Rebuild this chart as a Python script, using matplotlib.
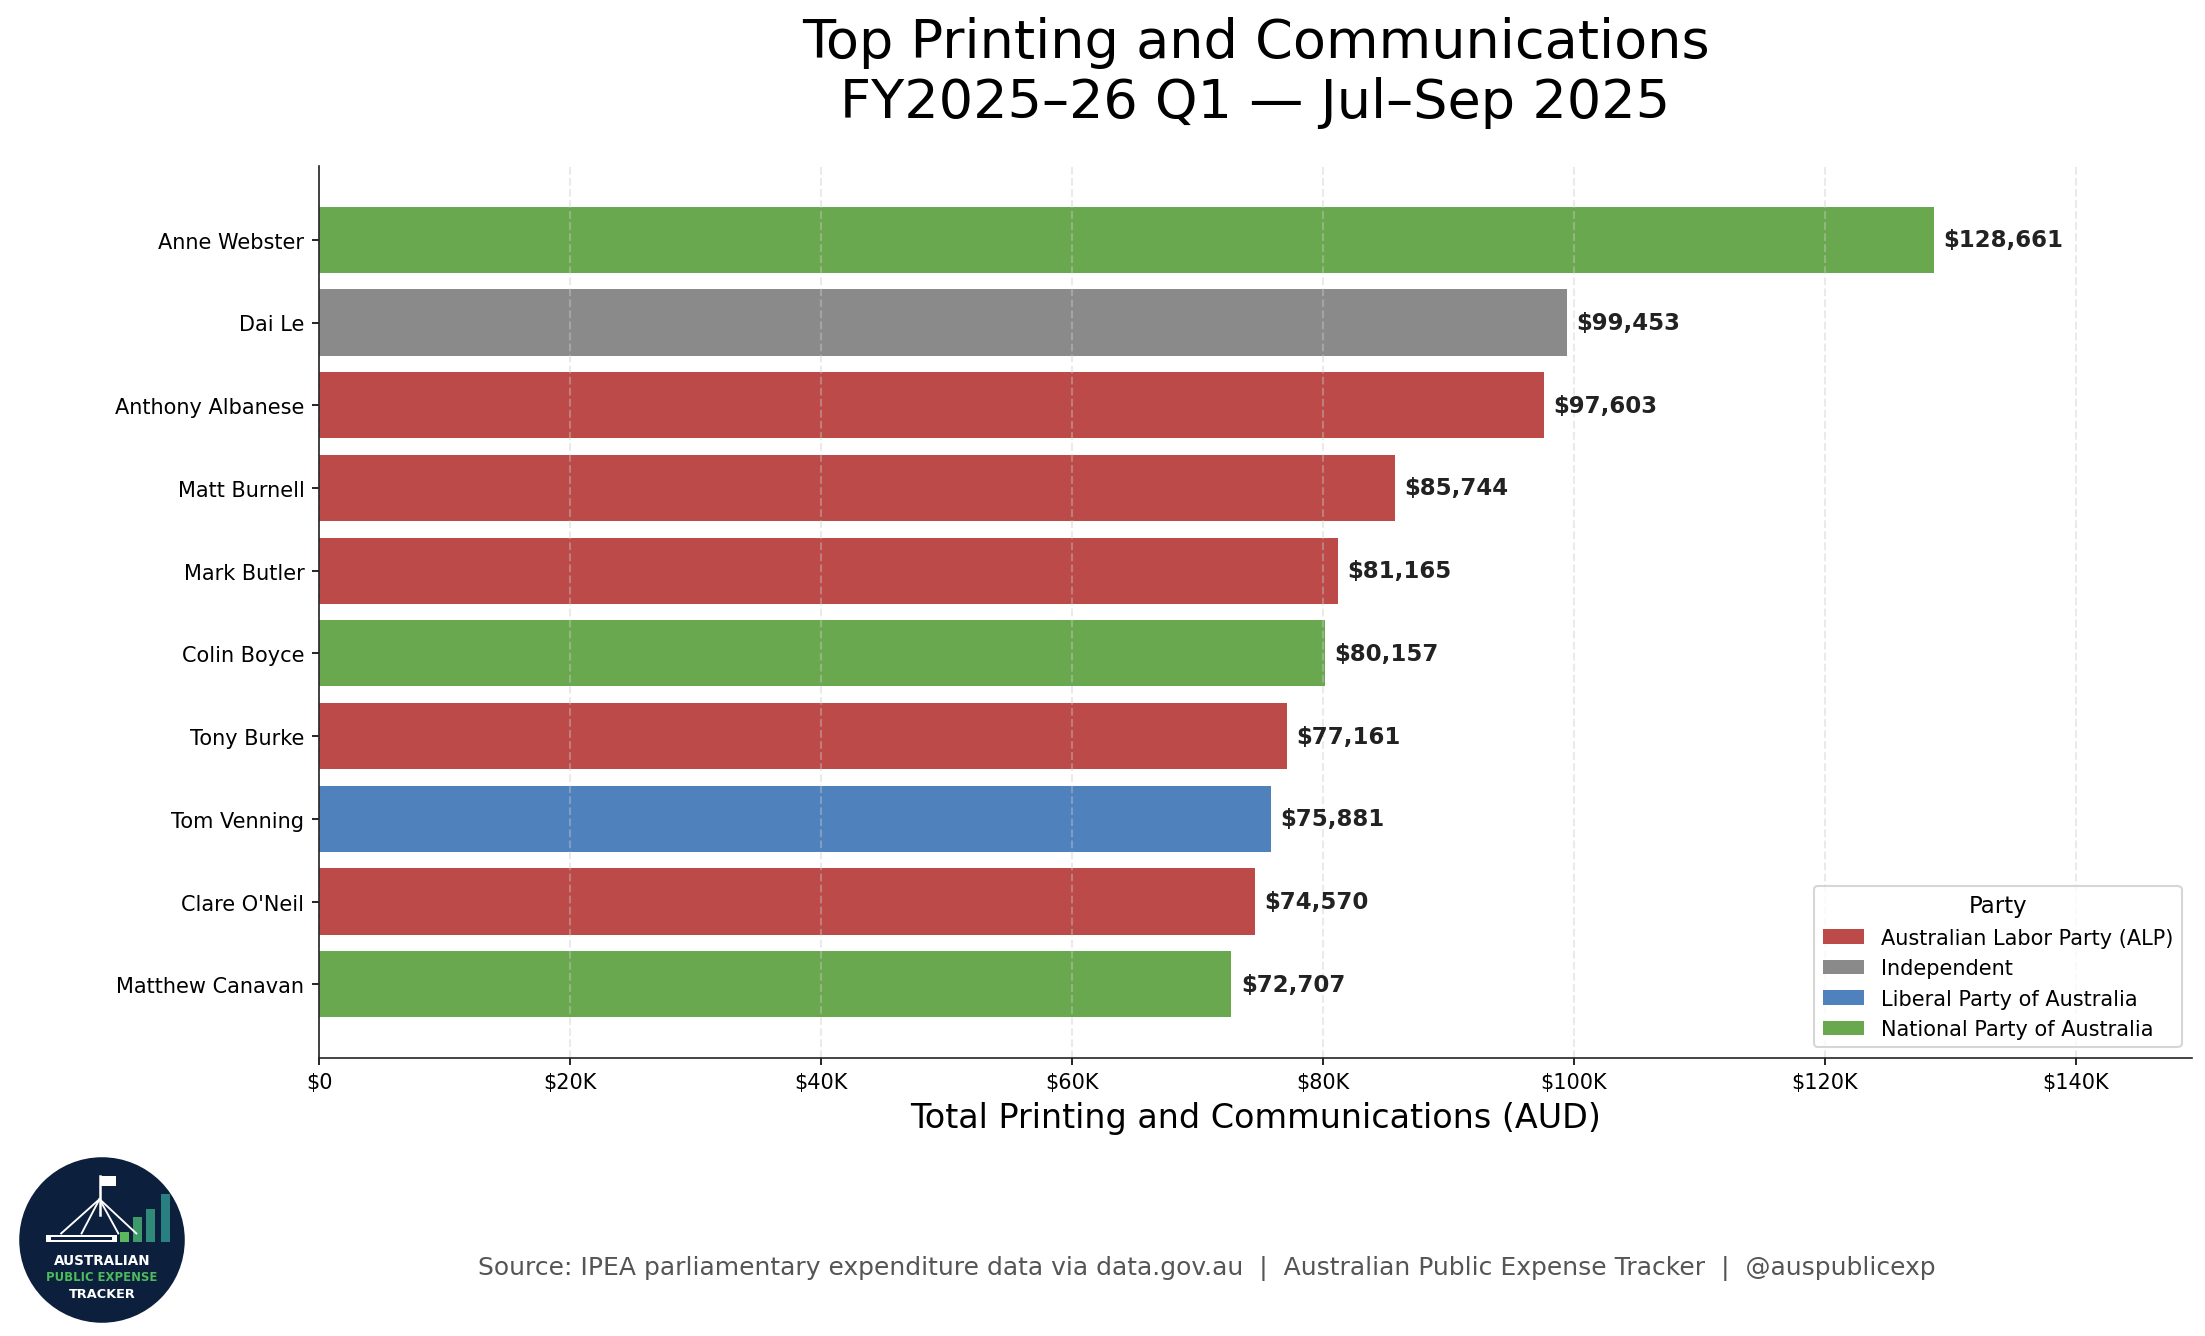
import matplotlib
matplotlib.use("Agg")
import matplotlib.pyplot as plt
from matplotlib.patches import Patch, Circle, Rectangle
import numpy as np

names = ["Anne Webster", "Dai Le", "Anthony Albanese", "Matt Burnell", "Mark Butler",
         "Colin Boyce", "Tony Burke", "Tom Venning", "Clare O'Neil", "Matthew Canavan"]
values = [128661, 99453, 97603, 85744, 81165, 80157, 77161, 75881, 74570, 72707]
parties = ["National Party of Australia", "Independent", "Australian Labor Party (ALP)",
           "Australian Labor Party (ALP)", "Australian Labor Party (ALP)",
           "National Party of Australia", "Australian Labor Party (ALP)",
           "Liberal Party of Australia", "Australian Labor Party (ALP)",
           "National Party of Australia"]
party_order = ["Australian Labor Party (ALP)", "Independent",
               "Liberal Party of Australia", "National Party of Australia"]
party_colors = {"Australian Labor Party (ALP)": "#bb4a48",
                "Independent": "#8a8a8a",
                "Liberal Party of Australia": "#4f81bd",
                "National Party of Australia": "#6aa84f"}
xticks = [0, 20000, 40000, 60000, 80000, 100000, 120000, 140000]
xticklabels = ["$0", "$20K", "$40K", "$60K", "$80K", "$100K", "$120K", "$140K"]

fig = plt.figure(figsize=(14.7, 8.913), dpi=150)
ax = fig.add_axes([0.1447, 0.2080, 0.8494, 0.6670])

ypos = np.arange(len(names))[::-1]
cols = [party_colors[p] for p in parties]
ax.barh(ypos, values, height=0.8, color=cols, zorder=2)
xmax = max(values) * 1.16
ax.set_xlim(0, xmax)
for y, v in zip(ypos, values):
    ax.text(v + xmax * 0.005, y, f"${v:,}", va="center", ha="left",
            fontsize=11, fontweight="bold", color="#222222", zorder=4)

ax.set_yticks(ypos)
ax.set_yticklabels(names, fontsize=10)
ax.set_xticks(xticks)
ax.set_xticklabels(xticklabels, fontsize=10)
ax.xaxis.grid(True, linestyle="--", color="#cccccc", alpha=0.4, linewidth=1.0, zorder=3)
ax.set_axisbelow(False)
for s in ["top", "right"]:
    ax.spines[s].set_visible(False)
for s in ["left", "bottom"]:
    ax.spines[s].set_color("#222222")
    ax.spines[s].set_zorder(6)
ax.set_xlabel("Total Printing and Communications (AUD)", fontsize=16)
ax.set_title("Top Printing and Communications\nFY2025\u201326 Q1 \u2014 Jul\u2013Sep 2025",
             fontsize=26, pad=23.5)

handles = [Patch(facecolor=party_colors[p], label=p) for p in party_order]
ax.legend(handles=handles, title="Party", loc="lower right", fontsize=10,
          title_fontsize=11)

fig.text(0.5475, 0.051, "Source: IPEA parliamentary expenditure data via data.gov.au  |  "
         "Australian Public Expense Tracker  |  @auspublicexp",
         ha="center", va="center", fontsize=12, color="#555555")

# logo
lw_px = 170
lax = fig.add_axes([102 / 2205 - lw_px / 2 / 2205, (1337 - 1241) / 1337 - lw_px / 2 / 1337,
                    lw_px / 2205, lw_px / 1337])
lax.set_xlim(-1.04, 1.04)
lax.set_ylim(-1.04, 1.04)
lax.set_aspect("equal")
lax.axis("off")
lax.add_patch(Circle((0, 0), 1.0, color="#0c1f3c"))
# building
lax.add_patch(Rectangle((-0.68, -0.02), 0.86, 0.08, facecolor="white", edgecolor="none"))
lax.add_patch(Rectangle((-0.62, 0.0), 0.74, 0.035, facecolor="#0c1f3c", edgecolor="none"))
# flagpole and legs
lax.plot([-0.03, -0.03], [0.3, 0.78], color="white", lw=1.2)
for dx in [-0.5, -0.25, 0.2, 0.42]:
    lax.plot([-0.03, dx], [0.5, 0.08], color="white", lw=0.9)
lax.add_patch(Rectangle((-0.03, 0.66), 0.2, 0.12, facecolor="white", edgecolor="none"))
# bars
bar_x = [0.22, 0.38, 0.54, 0.72]
bar_h = [0.12, 0.3, 0.4, 0.58]
bar_c = ["#5cb85c", "#3f9a6a", "#2f8a7a", "#2a8080"]
for bx, bh, bc in zip(bar_x, bar_h, bar_c):
    lax.add_patch(Rectangle((bx, -0.02), 0.11, bh, facecolor=bc, edgecolor="none"))
lax.text(0, -0.24, "AUSTRALIAN", ha="center", va="center", color="white",
         fontsize=6.5, fontweight="bold")
lax.text(0, -0.45, "PUBLIC EXPENSE", ha="center", va="center", color="#4cbb5c",
         fontsize=5.6, fontweight="bold")
lax.text(0, -0.66, "TRACKER", ha="center", va="center", color="white",
         fontsize=6.2, fontweight="bold")

fig.savefig("out.png", dpi=150)
